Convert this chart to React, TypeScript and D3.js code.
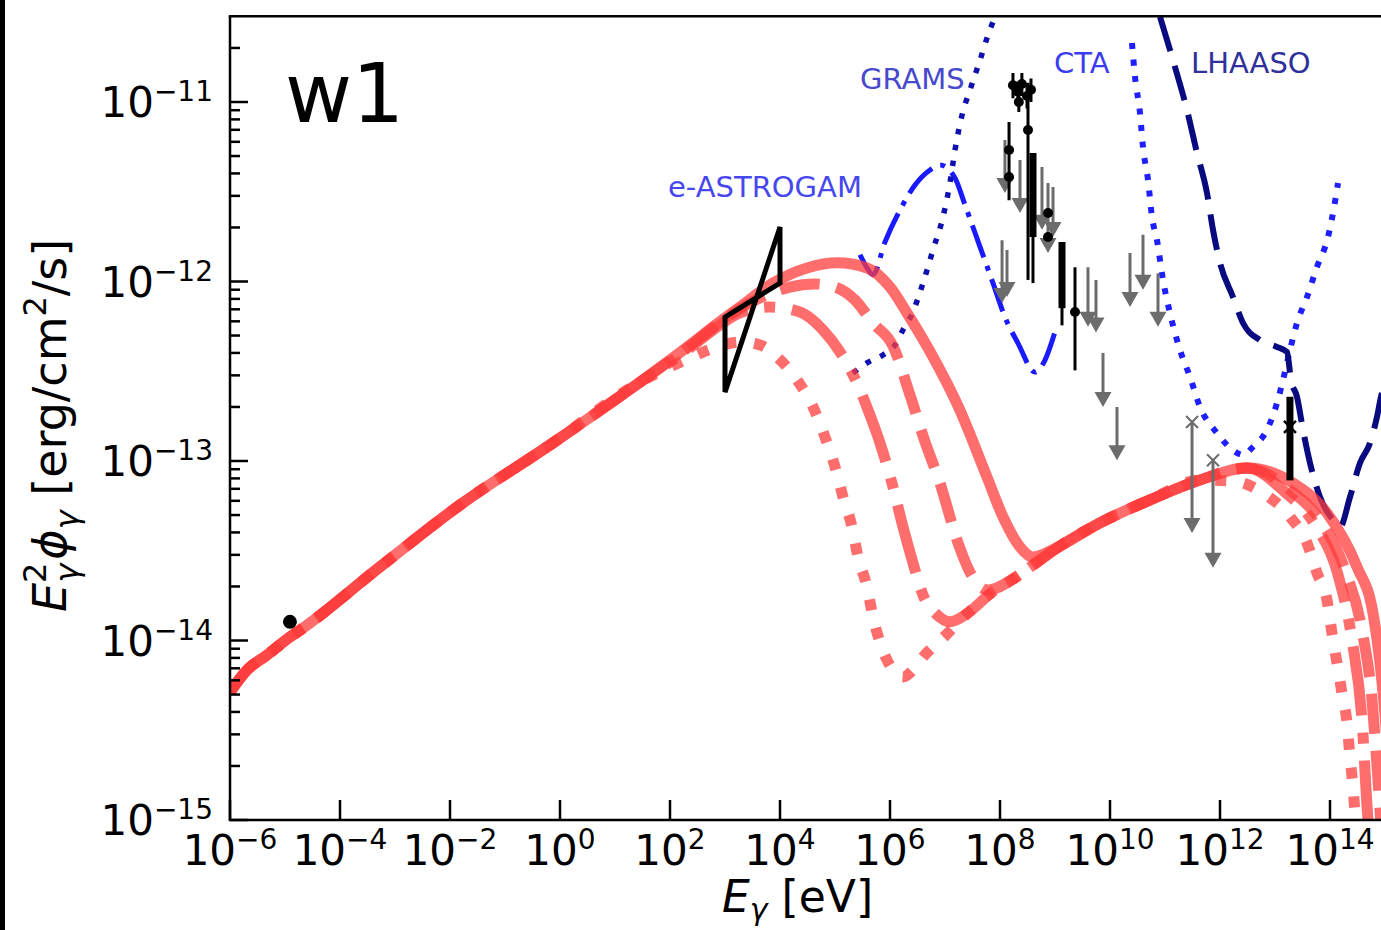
import * as d3 from 'd3';

// axis limits and ticks
const X_MIN = 1e-6;
const X_MAX = 1e16;
const Y_MIN = 1e-15;
const Y_TOP = 3e-11;
const xTickExps = [-6, -4, -2, 0, 2, 4, 6, 8, 10, 12, 14];
const yTickExps = [-15, -14, -13, -12, -11];

// model curves [E (eV), E^2 phi (erg/cm2/s)]
const sharedLow = [
  [1e-6, 5.16e-15], [2.04e-6, 6.85e-15], [4.71e-6, 8.3e-15], [1.23e-5, 1.045e-14],
  [1.87e-5, 1.14e-14], [5.33e-4, 2.57e-14], [1.52e-2, 5.69e-14], [0.66, 1.23e-13], [28.5, 2.75e-13],
];
const solidPeak = [
  [231, 4.43e-13], [606, 5.58e-13], [1.87e3, 7.21e-13], [7.46e3, 9.8e-13], [3.1e4, 1.19e-12],
  [1.09e5, 1.27e-12], [3.82e5, 1.19e-12], [1e6, 9.31e-13], [2.04e6, 6.68e-13], [6.05e6, 3.8e-13],
  [1.87e7, 1.92e-13], [5.8e7, 8.14e-14], [1.134e8, 4.88e-14], [2.31e8, 3.32e-14], [3.98e8, 2.92e-14],
  [8.11e8, 3.15e-14],
];
const dashedPeak = [
  [231, 4.37e-13], [606, 5.51e-13], [2.85e3, 7.59e-13], [1.52e4, 9.31e-13], [4.33e4, 9.69e-13],
  [1e5, 9.31e-13], [2.31e5, 7.89e-13], [4.91e5, 5.87e-13], [1.134e6, 4.37e-13], [2.31e6, 2.33e-13],
  [4.33e6, 1.28e-13], [8.11e6, 7.54e-14], [1.652e7, 3.63e-14], [3.1e7, 2.29e-14], [6.05e7, 1.91e-14],
];
const dashdotPeak = [
  [231, 4.26e-13], [606, 5.37e-13], [1.87e3, 6.68e-13], [6.58e3, 7.21e-13], [2.31e4, 6.76e-13],
  [6.05e4, 5.37e-13], [1.233e5, 4.05e-13], [2.51e5, 2.72e-13], [4.33e5, 1.8e-13], [6.58e5, 1.26e-13],
  [1.134e6, 7.16e-14], [1.723e6, 4.29e-14], [2.62e6, 2.7e-14], [3.98e6, 1.79e-14], [7.15e6, 1.39e-14],
  [1.233e7, 1.27e-14],
];
const dottedPeak = [
  [231, 3.75e-13], [715, 4.32e-13], [1.87e3, 4.6e-13], [4.33e3, 4.43e-13], [8.82e3, 3.8e-13],
  [2.04e4, 2.83e-13], [3.98e4, 2.0e-13], [6.58e4, 1.36e-13], [1e5, 9.27e-14], [1.398e5, 6.3e-14],
  [2.04e5, 4.29e-14], [2.62e5, 2.92e-14], [3.82e5, 1.99e-14], [4.91e5, 1.35e-14], [7.15e5, 9.08e-15],
  [1.134e6, 6.85e-15], [1.723e6, 6.26e-15], [2.62e6, 6.85e-15],
];
const icRise = [
  [3.98e6, 8.09e-15], [1e7, 1.06e-14], [2.51e7, 1.41e-14], [6.58e7, 1.82e-14], [1.723e8, 2.2e-14],
  [5.34e8, 2.81e-14], [1.233e9, 3.36e-14], [6.58e9, 4.52e-14], [5.34e10, 6.07e-14], [4.33e11, 7.83e-14],
  [3.1e12, 9.14e-14],
];
const solidTail = [
  [2.12e13, 7.54e-14], [8.82e13, 5.13e-14], [3.1e14, 2.57e-14], [6.05e14, 1.42e-14],
  [8.11e14, 7.5e-15], [1.087e15, 2.79e-15], [1.398e15, 8.8e-16],
];
const dashedTail = [
  [1.874e13, 6.89e-14], [6.58e13, 4.69e-14], [1.874e14, 2.47e-14], [3.82e14, 1.14e-14],
  [5.8e14, 4.67e-15], [7.46e14, 1.67e-15], [8.82e14, 7.74e-16],
];
const dashdotTail = [
  [1.52e13, 6.71e-14], [5.34e13, 4.4e-14], [1.4e14, 2.32e-14], [2.51e14, 1.01e-14],
  [3.82e14, 3.61e-15], [4.91e14, 1.0e-15], [5.34e14, 7.74e-16],
];
const dottedTail = [
  [1.723e12, 7.74e-14], [6.05e12, 6.64e-14], [1.874e13, 4.88e-14], [3.82e13, 3.49e-14],
  [5.8e13, 2.38e-14], [8.82e13, 1.68e-14], [1.087e14, 1.1e-14], [1.34e14, 7.5e-15],
  [1.652e14, 5.1e-15], [2.04e14, 3.47e-15], [2.31e14, 2.24e-15], [2.62e14, 1.53e-15],
  [2.85e14, 1.09e-15], [3.1e14, 7.74e-16],
];

// sensitivities
const eAstrogam = [
  [2.848e5, 1.41e-12], [3.82e5, 1.19e-12], [4.91e5, 1.09e-12], [8.11e5, 1.66e-12], [1.52e6, 2.5e-12],
  [2.85e6, 3.45e-12], [5.34e6, 4.18e-12], [8.11e6, 4.46e-12], [1.52e7, 3.77e-12], [2.31e7, 2.67e-12],
  [4.33e7, 1.56e-12], [7.46e7, 9.8e-13], [1.23e8, 6.34e-13], [2.12e8, 4.54e-13], [4.33e8, 3.13e-13],
  [6.58e8, 3.65e-13], [1e9, 5.24e-13],
];
const grams = [
  [2.125e5, 3.09e-13], [3.82e5, 3.52e-13], [7.46e5, 3.9e-13], [1.23e6, 4.43e-13], [1.72e6, 5.37e-13],
  [2.51e6, 6.59e-13], [3.98e6, 9.8e-13], [6.05e6, 1.5e-12], [9.2e6, 2.29e-12], [1.23e7, 3.54e-12],
  [1.52e7, 5.4e-12], [2.04e7, 8.46e-12], [2.85e7, 1.167e-11], [4.33e7, 1.71e-11], [6.05e7, 2.36e-11],
  [8.11e7, 2.98e-11],
];
const cta = [
  [2.51e10, 2.13e-11], [2.85e10, 1.38e-11], [3.51e10, 8.68e-12], [3.98e10, 5.61e-12], [4.91e10, 3.68e-12],
  [5.8e10, 2.29e-12], [7.15e10, 1.7e-12], [9.2e10, 1.02e-12], [1.23e11, 6.68e-13], [1.874e11, 4.15e-13],
  [2.85e11, 2.94e-13], [4.33e11, 2.0e-13], [8.82e11, 1.43e-13], [1.72e12, 1.15e-13], [2.62e12, 1.08e-13],
  [3.98e12, 1.2e-13], [7.15e12, 1.49e-13], [1.087e13, 2.1e-13], [1.4e13, 2.83e-13], [1.874e13, 4.15e-13],
  [2.51e13, 5.87e-13], [3.82e13, 8.2e-13], [5.8e13, 1.205e-12], [9.2e13, 1.77e-12], [1.23e14, 2.77e-12],
  [1.4e14, 3.54e-12],
];
const lhaaso = [
  [8.11e10, 2.98e-11], [1.52e11, 1.566e-11], [2.51e11, 9.03e-12], [3.82e11, 5.2e-12], [5.8e11, 3.11e-12],
  [7.46e11, 1.94e-12], [1e12, 1.27e-12], [1.72e12, 8.2e-13], [2.62e12, 5.87e-13], [5.34e12, 4.72e-13],
  [1.087e13, 4.32e-13], [1.652e13, 4.05e-13], [1.95e13, 2.83e-13], [2.51e13, 2.28e-13], [3.23e13, 1.49e-13],
  [4.33e13, 9.75e-14], [6.58e13, 6.3e-14], [1.134e14, 4.69e-14], [1.52e14, 4.29e-14], [2.31e14, 6.3e-14],
  [3.51e14, 9.75e-14], [5.34e14, 1.26e-13], [7.15e14, 1.76e-13], [8.46e14, 2.28e-13], [1.233e15, 3.21e-13],
];

// observations
const radioPoint = [1.23e-5, 1.27e-14];
const bowtie = { e1: 1e3, e2: 1e4, lo1: 2.42e-13, hi1: 6.34e-13, lo2: 9.8e-13, hi2: 2.01e-12 };
// [E, F, lo, hi]
const dataPoints = [
  [1.72e8, 1.24e-11, 1.05e-11, 1.45e-11], [2.12e8, 1.14e-11, 9.8e-12, 1.3e-11],
  [2.5e8, 1.26e-11, 1.08e-11, 1.45e-11], [3.1e8, 1.08e-11, 9.2e-12, 1.25e-11],
  [3.66e8, 1.17e-11, 1.0e-11, 1.35e-11], [2.2e8, 1.0e-11, 8.8e-12, 1.15e-11],
  [1.46e8, 5.4e-12, 2.84e-12, 7.74e-12], [1.46e8, 3.82e-12, 3.82e-12, 3.82e-12],
  [3.23e8, 6.98e-12, 1.02e-12, 1.28e-11], [7.46e8, 2.41e-12, 2.41e-12, 2.41e-12],
  [7.46e8, 1.77e-12, 1.77e-12, 1.77e-12], [2.31e9, 6.76e-13, 3.2e-13, 1.2e-12],
];
// [E, lo, hi]
const thickBars = [[3.98e8, 1.77e-12, 5.2e-12], [1.34e9, 7.1e-13, 1.66e-12], [1.87e13, 7.8e-14, 2.28e-13]];
const thinBars = [[3.98e8, 9.8e-13, 5.2e-12], [1.34e9, 5.7e-13, 1.66e-12]];
// [E, F, arrow tip]
const upperLimits = [
  [1.23e8, 6.14e-12, 3.11e-12], [2.31e8, 4.75e-12, 2.41e-12], [1.09e8, 1.7e-12, 7.6e-13],
  [1.34e8, 1.5e-12, 8.2e-13], [5.8e8, 4.35e-12, 1.94e-12], [7.46e8, 3.54e-12, 1.44e-12],
  [9.2e8, 3.36e-12, 1.77e-12], [3.98e9, 1.2e-12, 5.6e-13], [5.56e9, 1.02e-12, 5.2e-13],
  [2.31e10, 1.44e-12, 7.2e-13], [3.98e10, 1.82e-12, 9.0e-13], [7.46e10, 1.11e-12, 5.6e-13],
  [7.46e9, 4.0e-13, 2.0e-13], [1.34e10, 2.0e-13, 1.01e-13], [3.1e11, 1.65e-13, 3.97e-14],
  [7.46e11, 1.01e-13, 2.54e-14],
];
const greyCrosses = [[3.1e11, 1.65e-13], [7.46e11, 1.01e-13]];
const blackCrosses = [[1.87e13, 1.55e-13]];

const labels = [
  { text: 'e-ASTROGAM', x: 668, y: 197, color: '#4747ee' },
  { text: 'GRAMS', x: 860, y: 89, color: '#4848cc' },
  { text: 'CTA', x: 1054, y: 73, color: '#3c3cf0' },
  { text: 'LHAASO', x: 1191, y: 73, color: '#30309a' },
];

const FONT = 'DejaVu Sans, sans-serif';
const RED = '#ff3c3c';

function Pow({ x, y, exp, anchor }: { x: number; y: number; exp: number; anchor: string }) {
  return (
    <text x={x} y={y} textAnchor={anchor} fontSize={42} fontFamily={FONT} fill="#000">
      <tspan>10</tspan>
      <tspan fontSize={28} dy={-16}>{exp < 0 ? '\u2212' + -exp : String(exp)}</tspan>
    </text>
  );
}

export default function App() {
  const width = 1381;
  const height = 930;
  const x = d3.scaleLog().domain([X_MIN, X_MAX]).range([230, 1440]);
  const y = d3.scaleLog().domain([Y_MIN, 1e-11]).range([820, 102]);
  const top = y(Y_TOP);
  const bottom = y(Y_MIN);
  const left = x(X_MIN);

  const line = d3.line<number[]>().x((d) => x(d[0])).y((d) => y(d[1])).curve(d3.curveMonotoneX);

  const solid = [...sharedLow, ...solidPeak, ...icRise.filter((d) => d[0] > 1e9), ...solidTail];
  const dashed = [...sharedLow, ...dashedPeak, ...icRise.filter((d) => d[0] > 1.5e8), ...dashedTail];
  const dashdot = [...sharedLow, ...dashdotPeak, ...icRise.filter((d) => d[0] > 2e7), ...dashdotTail];
  const dotted = [...sharedLow, ...dottedPeak, ...icRise.filter((d) => d[0] > 3e6 && d[0] < 1e12), ...dottedTail];

  const yMinor: number[] = [];
  for (let e = -15; e <= -11; e++) for (let m = 2; m <= 9; m++) if (m * 10 ** e < Y_TOP * 0.99) yMinor.push(m * 10 ** e);

  const bw = bowtie;
  const bowPts = [[bw.e1, bw.hi1], [bw.e2, bw.lo2], [bw.e2, bw.hi2], [bw.e1, bw.lo1]];

  return (
    <svg width={width} height={height} style={{ position: 'absolute', left: 0, top: 0, background: '#fff' }}>
      <rect x={0} y={0} width={width} height={height} fill="#fff" />
      <rect x={0} y={0} width={5} height={height} fill="#000" />
      <defs>
        <clipPath id="plot">
          <rect x={left} y={top} width={1300} height={bottom - top} />
        </clipPath>
      </defs>

      <g clipPath="url(#plot)" fill="none">
        {/* sensitivity curves */}
        <path d={line(eAstrogam)!} stroke="#1a1aff" strokeWidth={5} strokeDasharray="34 9 5 9" />
        <path d={line(grams)!} stroke="#1010b0" strokeWidth={5.5} strokeDasharray="5.5 10.5" />
        <path d={line(cta)!} stroke="#1e1eff" strokeWidth={6} strokeDasharray="6 10.5" />
        <path d={line(lhaaso)!} stroke="#0a0a80" strokeWidth={6} strokeDasharray="36 15" />

        {/* model curves */}
        <g stroke={RED} strokeOpacity={0.75} strokeWidth={11} strokeLinejoin="round">
          <path d={line(dotted)!} strokeDasharray="11 18" />
          <path d={line(dashdot)!} strokeDasharray="70 17 11 17" />
          <path d={line(dashed)!} strokeDasharray="40 17" />
          <path d={line(solid)!} />
        </g>

        {/* upper limits */}
        <g stroke="#6c6c6c" fill="#6c6c6c">
          {upperLimits.map((d, i) => {
            const cx = x(d[0]);
            const y0 = y(d[1]);
            const tip = y(d[2]);
            return (
              <g key={i}>
                <line x1={cx} x2={cx} y1={y0} y2={tip - 12} strokeWidth={3} />
                <path d={`M${cx - 8.5},${tip - 15}L${cx + 8.5},${tip - 15}L${cx},${tip}Z`} stroke="none" />
              </g>
            );
          })}
          {greyCrosses.map((d, i) => {
            const cx = x(d[0]);
            const cy = y(d[1]);
            return <path key={i} d={`M${cx - 6},${cy - 6}L${cx + 6},${cy + 6}M${cx - 6},${cy + 6}L${cx + 6},${cy - 6}`} strokeWidth={2} fill="none" />;
          })}
        </g>

        {/* measured points */}
        <g stroke="#000" fill="#000">
          {thinBars.map((d, i) => (
            <line key={'t' + i} x1={x(d[0])} x2={x(d[0])} y1={y(d[1])} y2={y(d[2])} strokeWidth={3} />
          ))}
          {thickBars.map((d, i) => (
            <line key={'k' + i} x1={x(d[0])} x2={x(d[0])} y1={y(d[1])} y2={y(d[2])} strokeWidth={7} />
          ))}
          {dataPoints.map((d, i) => (
            <g key={'p' + i}>
              <line x1={x(d[0])} x2={x(d[0])} y1={y(d[2])} y2={y(d[3])} strokeWidth={3} />
              <circle cx={x(d[0])} cy={y(d[1])} r={5} stroke="none" />
            </g>
          ))}
          {blackCrosses.map((d, i) => {
            const cx = x(d[0]);
            const cy = y(d[1]);
            return <path key={'x' + i} d={`M${cx - 6},${cy - 6}L${cx + 6},${cy + 6}M${cx - 6},${cy + 6}L${cx + 6},${cy - 6}`} strokeWidth={2.5} fill="none" />;
          })}
          <circle cx={x(radioPoint[0])} cy={y(radioPoint[1])} r={7} stroke="none" />
          <path
            d={'M' + bowPts.map((p) => `${x(p[0])},${y(p[1])}`).join('L') + 'Z'}
            fill="none"
            strokeWidth={5}
            strokeLinejoin="miter"
          />
        </g>
      </g>

      {/* labels of instruments */}
      {labels.map((l) => (
        <text key={l.text} x={l.x} y={l.y} fontSize={29} fontFamily={FONT} fill={l.color}>
          {l.text}
        </text>
      ))}
      <text x={285} y={122} fontSize={82} fontFamily={FONT} fill="#000">w1</text>

      {/* frame */}
      <g stroke="#000" strokeWidth={2.5} fill="none">
        <line x1={left} x2={left} y1={top} y2={bottom} />
        <line x1={left - 1.25} x2={width} y1={bottom} y2={bottom} />
        <line x1={left - 1.25} x2={width} y1={top} y2={top} />
        {yTickExps.map((e) => (
          <line key={e} x1={left} x2={left + 18} y1={y(10 ** e)} y2={y(10 ** e)} />
        ))}
        {yMinor.map((v) => (
          <line key={v} x1={left} x2={left + 10} y1={y(v)} y2={y(v)} />
        ))}
        {xTickExps.map((e) => (
          <line key={e} x1={x(10 ** e)} x2={x(10 ** e)} y1={bottom} y2={bottom - 20} />
        ))}
      </g>

      {yTickExps.map((e) => (
        <Pow key={e} x={213} y={y(10 ** e) + 15} exp={e} anchor="end" />
      ))}
      {xTickExps.map((e) => (
        <Pow key={e} x={x(10 ** e)} y={865} exp={e} anchor="middle" />
      ))}

      {/* axis titles */}
      <text x={722} y={912} fontSize={44} fontFamily={FONT} fill="#000">
        <tspan fontStyle="italic">E</tspan>
        <tspan fontSize={30} fontStyle="italic" dy={8}>γ</tspan>
        <tspan dy={-8}> [eV]</tspan>
      </text>
      <g transform="translate(66,612) rotate(-90)">
        <text x={0} y={0} fontSize={46} fontFamily={FONT} fill="#000">
          <tspan fontStyle="italic">E</tspan>
          <tspan fontSize={32} dy={-20}>2</tspan>
          <tspan fontSize={32} fontStyle="italic" dx={-20} dy={32}>γ</tspan>
          <tspan fontStyle="italic" dx={4} dy={-12}>ϕ</tspan>
          <tspan fontSize={32} fontStyle="italic" dy={12}>γ</tspan>
          <tspan dy={-12}> [erg/cm</tspan>
          <tspan fontSize={32} dy={-20}>2</tspan>
          <tspan dy={20}>/s]</tspan>
        </text>
      </g>
    </svg>
  );
}
